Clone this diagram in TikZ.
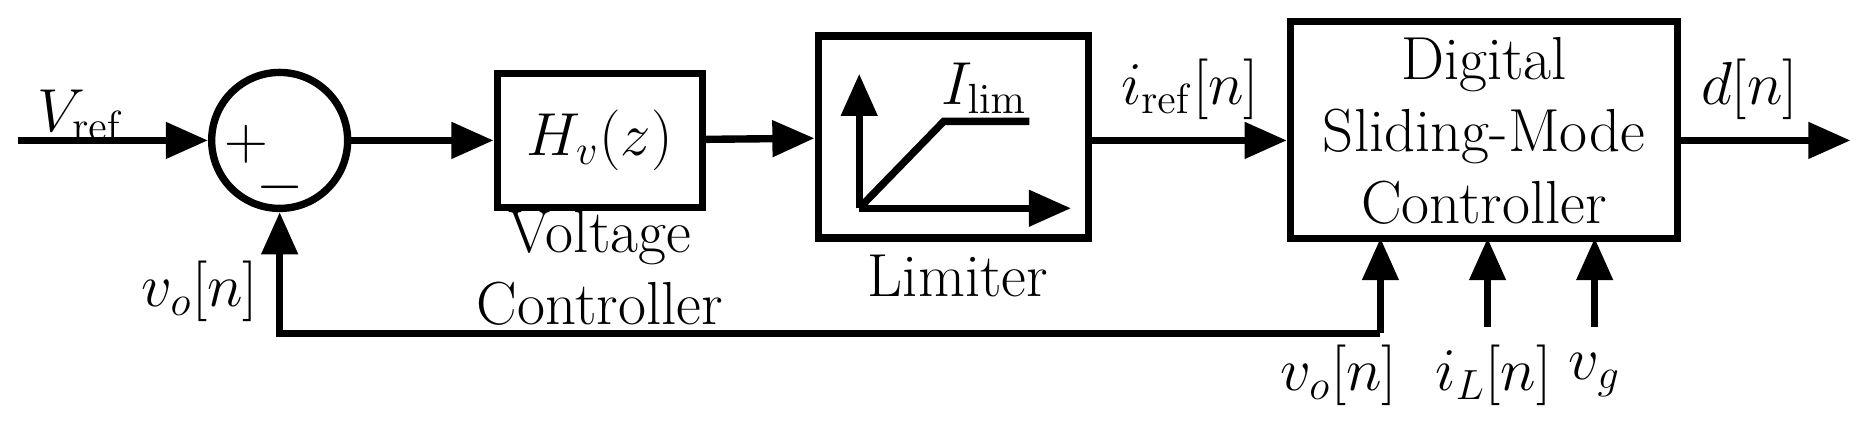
\documentclass[tikz,border=0pt]{standalone}
\usetikzlibrary{arrows.meta}
\begin{document}
\begin{tikzpicture}[x=0.119mm,y=-0.119mm,line width=2.1pt,
  every node/.style={font=\fontsize{17.3}{20.5}\selectfont},
  arr/.style={-{Triangle[length=12pt,width=10pt]}},
  blk/.style={draw,line width=2.1pt,inner sep=0pt},
  lbl/.style={inner sep=0pt,align=center}]
\path[use as bounding box,clip] (0,0) rectangle (1568,355);
\coordinate (in) at (15,118);
\node[draw,circle,minimum size=13.6mm,inner sep=0pt] (sum) at (235,118) {};
\node[lbl] at (207,121) {$+$};
\node[lbl] at (235,157) {$-$};
\node[lbl] at (68,97) {$V_{\mathrm{ref}}$};
\node[blk,minimum width=20.5mm,minimum height=13.4mm] (hv) at (504,118) {$H_v(z)$};
\node[lbl] at (504,225) {Voltage\\Controller};
\node[blk,minimum width=27mm,minimum height=20.2mm] (lim) at (801,115) {};
\node[lbl] at (805,232) {Limiter};
\node[lbl] at (827,74) {$I_{\mathrm{lim}}$};
\coordinate (o) at (722,175);
\draw[arr] (o) -- (722,62);
\draw[arr] (o) -- (900,175);
\draw (o) -- (793,102) -- (865,102);
\node[blk,minimum width=38.7mm,minimum height=21.7mm] (sm) at (1247,109) {};
\node[lbl] at (1247,110) {Digital\\Sliding-Mode\\Controller};
\coordinate (out) at (1555,118);
\node[lbl] at (1000,75) {$i_{\mathrm{ref}}[n]$};
\node[lbl] at (1470,75) {$d[n]$};
\draw[arr] (in) -- (sum);
\draw[arr] (sum) -- (hv);
\draw[arr] (hv) -- (lim);
\draw[arr] (lim.east |- 0,118) -- (sm.west |- 0,118);
\draw[arr] (sm.east |- 0,118) -- (out);
\coordinate (fb) at (1160,280);
\draw[arr] (fb) -- (1160,200);
\draw[arr] (fb) -- (235,280) -- (sum.south);
\draw[arr] (1250,275) -- (1250,200);
\draw[arr] (1340,275) -- (1340,200);
\node[lbl] at (168,245) {$v_o[n]$};
\node[lbl] at (1125,315) {$v_o[n]$};
\node[lbl] at (1255,315) {$i_L[n]$};
\node[lbl] at (1340,315) {$v_g$};
\end{tikzpicture}
\end{document}
